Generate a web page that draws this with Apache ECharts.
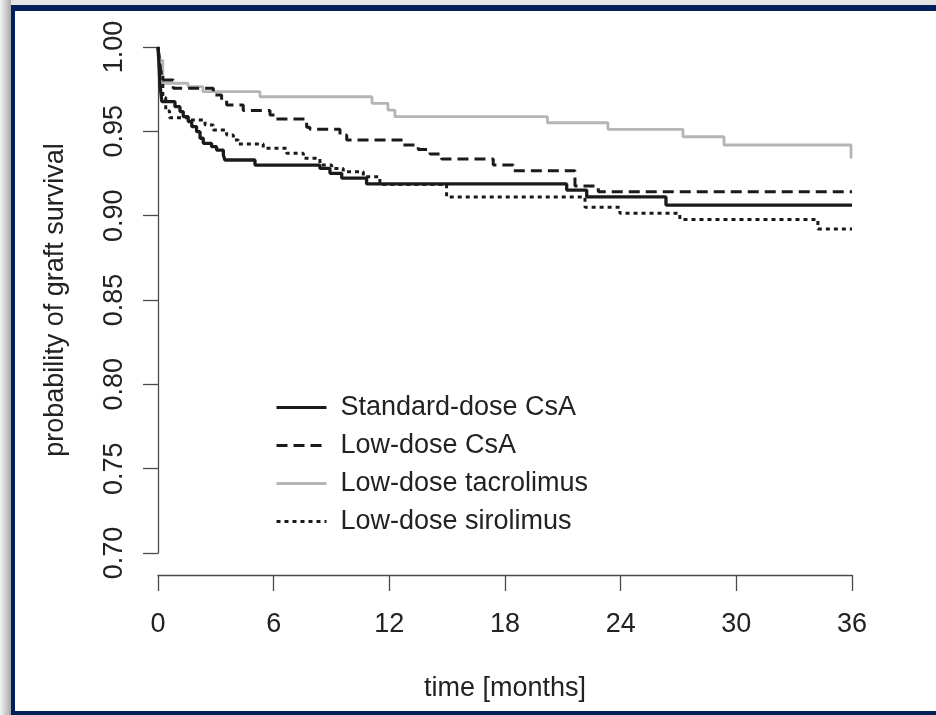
<!DOCTYPE html>
<html>
<head>
<meta charset="utf-8">
<script src="https://cdn.jsdelivr.net/npm/echarts@6/dist/echarts.min.js"></script>
<style>
html,body{margin:0;padding:0;background:#fff;}
#chart{width:936px;height:715px;}
</style>
</head>
<body>
<div id="chart"></div>
<script>
// ---- data ----
const seriesNames = ['Standard-dose CsA', 'Low-dose CsA', 'Low-dose tacrolimus', 'Low-dose sirolimus'];
const xTicks = [0, 6, 12, 18, 24, 30, 36];
const yTicks = [0.70, 0.75, 0.80, 0.85, 0.90, 0.95, 1.00];

const stdTime = [0, 0.05, 0.1, 0.2, 0.88, 1.14, 1.31, 1.57, 1.75, 2.0, 2.18, 2.35, 2.78, 3.04, 3.39, 3.47, 5.03, 8.4, 8.92, 9.53, 10.82, 21.2, 22.24, 26.35, 36];
const stdSurv = [1.0, 0.99, 0.978, 0.9676, 0.9646, 0.9617, 0.9587, 0.9557, 0.9528, 0.9498, 0.9459, 0.9429, 0.9409, 0.9389, 0.936, 0.933, 0.930, 0.928, 0.9251, 0.9222, 0.9188, 0.9152, 0.9111, 0.9063, 0.9063];

const lowCsaTime = [0, 0.1, 0.19, 0.79, 2.87, 3.30, 3.56, 4.42, 5.81, 6.07, 7.71, 7.88, 9.44, 9.79, 12.72, 13.5, 14.11, 14.71, 17.39, 18.43, 21.63, 22.84, 36];
const lowCsaSurv = [1.0, 0.99, 0.9804, 0.9755, 0.9715, 0.9686, 0.9656, 0.9623, 0.9597, 0.9573, 0.9524, 0.9512, 0.9478, 0.9449, 0.9419, 0.9393, 0.9366, 0.9336, 0.930, 0.9267, 0.9176, 0.9142, 0.9142];

const tacTime = [0, 0.1, 0.25, 1.56, 2.33, 5.29, 11.1, 11.93, 12.29, 20.2, 23.34, 27.23, 29.36, 35.95, 36];
const tacSurv = [1.0, 0.992, 0.9785, 0.9765, 0.9735, 0.9705, 0.9666, 0.9626, 0.9587, 0.9551, 0.9512, 0.9468, 0.9419, 0.9344, 0.9344];

const sirTime = [0, 0.1, 0.25, 0.4, 0.6, 1.65, 2.44, 2.87, 3.56, 3.91, 4.17, 5.46, 6.67, 7.54, 8.40, 9.01, 9.61, 10.65, 11.51, 14.97, 22.15, 23.96, 27.07, 34.23, 36];
const sirSurv = [1.0, 0.985, 0.97, 0.962, 0.958, 0.9567, 0.9538, 0.9508, 0.9478, 0.9449, 0.9425, 0.9399, 0.937, 0.934, 0.930, 0.928, 0.926, 0.9231, 0.9185, 0.911, 0.905, 0.9014, 0.8978, 0.8921, 0.8921];

// ---- chart ----
const pairs = (t, s) => t.map((v, i) => [v, s[i]]);
const FONT = '"Liberation Sans", Arial, Helvetica, sans-serif';
const TXT = '#222';
const AX = '#4a4a4a';

const chart = echarts.init(document.getElementById('chart'), null, {renderer: 'canvas'});
const option = {
  animation: false,
  backgroundColor: '#ffffff',
  textStyle: {fontFamily: FONT},
  grid: {left: 158, right: 84, top: 47, bottom: 162, containLabel: false},
  xAxis: {
    type: 'value', min: 0, max: 36, interval: 6,
    offset: 22,
    name: 'time [months]', nameLocation: 'middle', nameGap: 100,
    nameTextStyle: {fontSize: 27, color: TXT, fontFamily: FONT},
    axisLine: {show: true, onZero: false, lineStyle: {color: AX, width: 1.3}},
    axisTick: {show: true, length: 16, lineStyle: {color: AX, width: 1.3}},
    axisLabel: {fontSize: 27, color: TXT, margin: 36, fontFamily: FONT},
    splitLine: {show: false}
  },
  yAxis: {
    type: 'value', min: 0.7, max: 1.0, interval: 0.05,
    name: 'probability of graft survival', nameLocation: 'middle', nameGap: 89, nameRotate: 90,
    nameTextStyle: {fontSize: 27, color: TXT, fontFamily: FONT},
    axisLine: {show: true, lineStyle: {color: AX, width: 1.3}},
    axisTick: {show: true, length: 15, lineStyle: {color: AX, width: 1.3}},
    axisLabel: {
      fontSize: 27, color: TXT, margin: 30, rotate: 90, fontFamily: FONT,
      showMinLabel: true, showMaxLabel: true,
      formatter: v => v.toFixed(2)
    },
    splitLine: {show: false}
  },
  legend: {
    orient: 'vertical', left: 270, top: 389,
    itemWidth: 50, itemHeight: 14, itemGap: 11,
    selectedMode: false,
    data: seriesNames,
    itemStyle: {opacity: 0, borderWidth: 0},
    lineStyle: {width: 3},
    textStyle: {fontSize: 27, color: TXT, fontFamily: FONT, padding: [0, 0, 0, 9]}
  },
  series: [
    {name: seriesNames[0], type: 'line', step: 'end', symbol: 'none', data: pairs(stdTime, stdSurv),
     lineStyle: {color: '#1a1a1a', width: 3.3, type: 'solid'}, itemStyle: {color: '#1a1a1a'}, z: 4},
    {name: seriesNames[1], type: 'line', step: 'end', symbol: 'none', data: pairs(lowCsaTime, lowCsaSurv),
     lineStyle: {color: '#1a1a1a', width: 3, type: [11, 6]}, itemStyle: {color: '#1a1a1a'}, z: 3},
    {name: seriesNames[2], type: 'line', step: 'end', symbol: 'none', data: pairs(tacTime, tacSurv),
     lineStyle: {color: '#b5b5b5', width: 2.8, type: 'solid'}, itemStyle: {color: '#b5b5b5'}, z: 2},
    {name: seriesNames[3], type: 'line', step: 'end', symbol: 'none', data: pairs(sirTime, sirSurv),
     lineStyle: {color: '#1a1a1a', width: 3, type: [4, 4]}, itemStyle: {color: '#1a1a1a'}, z: 5}
  ],
  graphic: [
    {type: 'rect', left: 0, top: 0, shape: {width: 936, height: 5}, style: {fill: '#e4e4e4'}, silent: true},
    {type: 'rect', left: 0, top: 0, shape: {width: 11, height: 715},
     style: {fill: new echarts.graphic.LinearGradient(0, 0, 1, 0, [{offset: 0, color: '#f4f4f4'}, {offset: 1, color: '#a9a9a9'}])}, silent: true},
    {type: 'rect', left: 11, top: 5, shape: {width: 925, height: 6}, style: {fill: '#00205b'}, silent: true},
    {type: 'rect', left: 11, top: 5, shape: {width: 4, height: 710}, style: {fill: '#00205b'}, silent: true},
    {type: 'rect', left: 11, top: 711, shape: {width: 925, height: 4}, style: {fill: '#00205b'}, silent: true}
  ]
};
chart.setOption(option);
</script>
</body>
</html>
